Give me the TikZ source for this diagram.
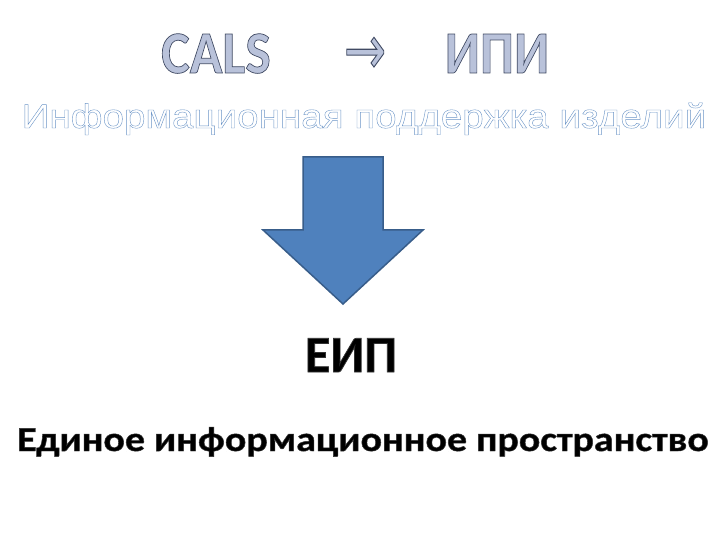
\documentclass[tikz,border=0pt]{standalone}
\usepackage{fontspec}
\setmainfont{Carlito}
\newfontfamily\calsout[FakeBold=1.2]{Carlito Bold}
\newfontfamily\arrout[FakeBold=1.6]{DejaVu Sans}
\newfontfamily\subout[FakeBold=1.1]{Liberation Sans}
\newfontfamily\blackout[FakeBold=1.4]{Carlito Bold}
\definecolor{capfill}{HTML}{B9C2DA}
\definecolor{arrfill}{HTML}{4F81BD}
\definecolor{arrline}{HTML}{385D8A}
\newcommand\strokergb[1]{\special{pdf:literal direct #1 RG}}
\tikzset{
  txt/.style={anchor=base, inner sep=0pt, outer sep=0pt},
}
\begin{document}
\begin{tikzpicture}[x=1pt,y=-1pt]
\useasboundingbox (0,0) rectangle (720,540);
\fill[white] (0,0) rectangle (720,540);
% header line
\node[txt] (cals) at (216,73) {\fontsize{60}{60}\calsout\scalebox{0.9}[1]{\color{capfill}\strokergb{0.25 0.29 0.39}CALS}};
\node[txt] (to) at (365,74) {\fontsize{48}{48}\arrout\scalebox{1.05}[1.45]{\color{capfill}\strokergb{0.25 0.29 0.39}→}};
\node[txt] (ipi) at (497,73) {\fontsize{60}{60}\calsout\scalebox{0.9}[1]{\color{capfill}\strokergb{0.25 0.29 0.39}ИПИ}};
% subtitle
\node[txt] (sub) at (364,128) {\fontsize{34}{34}\subout\scalebox{1.135}[1]{\color{white}\strokergb{0.42 0.58 0.78}Информационная поддержка изделий}};
% big arrow
\draw[fill=arrfill, draw=arrline, line width=1.5pt, line join=miter]
  (303,157) -- (383,157) -- (383,230) -- (423,230) -- (343,304) -- (263,230) -- (303,230) -- cycle;
% EIP
\node[txt] (eip) at (351,372) {\fontsize{52}{52}\blackout\color{black}\strokergb{0.2 0.2 0.2}ЕИП};
% bottom
\node[txt] (bottom) at (363,451) {\fontsize{35}{35}\blackout\scalebox{1.14}[1]{\color{black}\strokergb{0.2 0.2 0.2}Единое информационное пространство}};
\end{tikzpicture}
\end{document}
